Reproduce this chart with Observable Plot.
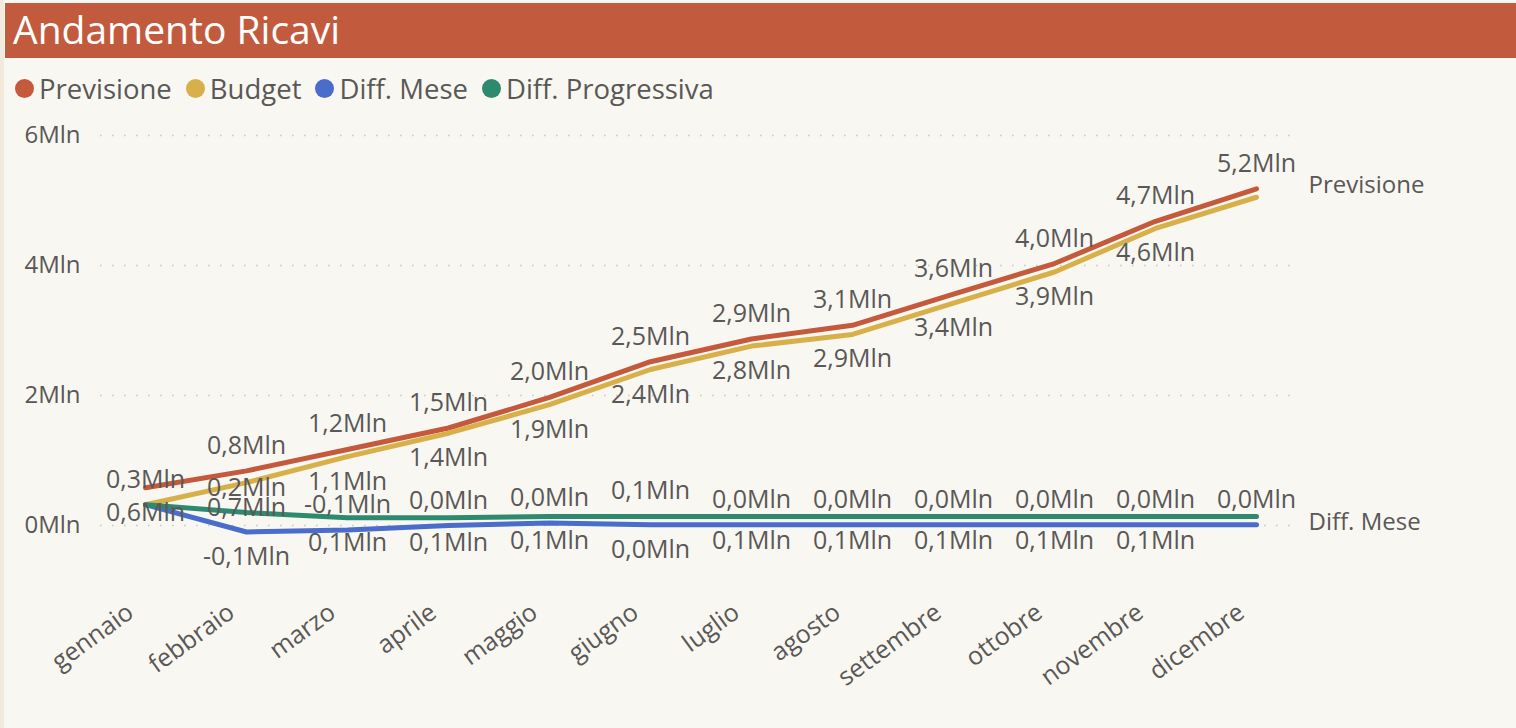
<!DOCTYPE html>
<html><head><meta charset="utf-8">
<script src="https://cdn.jsdelivr.net/npm/d3@7"></script>
<script src="https://cdn.jsdelivr.net/npm/@observablehq/plot@0.6"></script>
<style>
html,body{margin:0;padding:0;background:#F9F7F2;}
body{width:1516px;height:728px;position:relative;overflow:hidden;font-family:"Segoe UI","Open Sans",sans-serif;}
#edge{position:absolute;left:0;top:0;width:4px;height:728px;background:#F2EBDD;}
#title{position:absolute;left:5px;top:3px;width:1511px;height:55px;background:#C25B3E;color:#fff;font-size:39px;line-height:52px;padding-left:8px;box-sizing:border-box;white-space:nowrap;}
#legend{position:absolute;left:15px;top:70px;height:36px;display:flex;align-items:center;font-size:27.5px;color:#5A5856;white-space:nowrap;}
.item{display:flex;align-items:center;margin-right:14px}
.dot{width:19px;height:19px;border-radius:50%;margin-right:5px;flex:none}
#chart{position:absolute;left:0;top:110px;}
</style></head>
<body>
<div id="edge"></div>
<div id="title">Andamento Ricavi</div>
<div id="legend"></div>
<div id="chart"></div>
<script>
const months = ["gennaio","febbraio","marzo","aprile","maggio","giugno","luglio","agosto","settembre","ottobre","novembre","dicembre"];
const previsione      = [0.58, 0.84, 1.17, 1.50, 1.97, 2.52, 2.87, 3.08, 3.56, 4.03, 4.68, 5.18];
const budget          = [0.32, 0.66, 1.06, 1.42, 1.86, 2.40, 2.76, 2.94, 3.42, 3.90, 4.57, 5.05];
const diffMese        = [0.32, -0.10, -0.07, 0.00, 0.04, 0.01, 0.01, 0.01, 0.01, 0.01, 0.01, 0.01];
const diffProgressiva = [0.32, 0.20, 0.12, 0.12, 0.14, 0.14, 0.14, 0.14, 0.14, 0.14, 0.14, 0.14];
const seriesNames = ["Previsione","Budget","Diff. Mese","Diff. Progressiva"];
const seriesValues = [previsione, budget, diffMese, diffProgressiva];
const colors = ["#C4593B","#D8B04A","#4A6CCB","#2E8A6E"];
const yTicks = [0, 2, 4, 6];
const endLabels = ["Previsione","Diff. Mese"];

const textColor = "#5A5856";
const font = '"Segoe UI","Open Sans",sans-serif';

// legend
const lg = document.getElementById("legend");
seriesNames.forEach((s, i) => {
  const it = document.createElement("div"); it.className = "item";
  const d = document.createElement("span"); d.className = "dot"; d.style.background = colors[i];
  const t = document.createElement("span"); t.textContent = s;
  it.append(d, t); lg.append(it);
});

const data = [];
seriesNames.forEach((s, si) => months.forEach((m, mi) => data.push({series: s, month: m, mi, value: seriesValues[si][mi]})));

// label side: -1 above, +1 below, 0 hidden (data label placement as in the original)
function side(d) {
  const m = d.month;
  switch (d.series) {
    case "Previsione": return m === "gennaio" ? 1 : -1;
    case "Budget": return m === "gennaio" ? -1 : m === "dicembre" ? 0 : 1;
    case "Diff. Mese": return m === "gennaio" ? 0 : (m === "febbraio" || m === "giugno") ? 1 : -1;
    default: return (m === "gennaio" || m === "dicembre") ? 0 : (m === "febbraio" || m === "giugno") ? -1 : 1;
  }
}
const fmt = v => { let s = v.toFixed(1); if (s === "-0.0") s = "0.0"; return s.replace(".", ",") + "Mln"; };
const above = data.filter(d => side(d) === -1);
const below = data.filter(d => side(d) === 1);
const ends = data.filter(d => d.month === "dicembre" && endLabels.includes(d.series));

const chart = Plot.plot({
  width: 1516,
  height: 618,
  marginLeft: 142,
  marginRight: 258,
  marginTop: 25,
  marginBottom: 203,
  style: {background: "transparent", fontFamily: font, color: textColor},
  x: {type: "point", domain: months, padding: 0, label: null},
  y: {domain: [0, 6], label: null},
  color: {domain: seriesNames, range: colors},
  marks: [
    Plot.ruleY(yTicks, {stroke: "#C9C9C9", strokeWidth: 1.6, strokeDasharray: "1.6,10.4", insetLeft: -42, insetRight: -42}),
    Plot.axisY({ticks: yTicks, tickSize: 0, tickPadding: 62, tickFormat: d => d + "Mln", fontSize: 24, fill: textColor, label: null}),
    Plot.axisX({tickSize: 0, tickRotate: -36, tickPadding: 84, dx: -15, fontSize: 25, fill: textColor, label: null}),
    Plot.line(data, {x: "month", y: "value", z: "series", stroke: "series", strokeWidth: 5, strokeLinecap: "round", strokeLinejoin: "round"}),
    Plot.text(above, {x: "month", y: "value", text: d => fmt(d.value), dy: -25, fontSize: 25, fill: textColor, lineAnchor: "middle"}),
    Plot.text(below, {x: "month", y: "value", text: d => fmt(d.value), dy: 25, fontSize: 25, fill: textColor, lineAnchor: "middle"}),
    Plot.text(ends, {x: "month", y: "value", text: "series", dx: 52, dy: -3, textAnchor: "start", fontSize: 24, fill: textColor, lineAnchor: "middle"})
  ]
});
document.getElementById("chart").append(chart);
</script>
</body></html>
